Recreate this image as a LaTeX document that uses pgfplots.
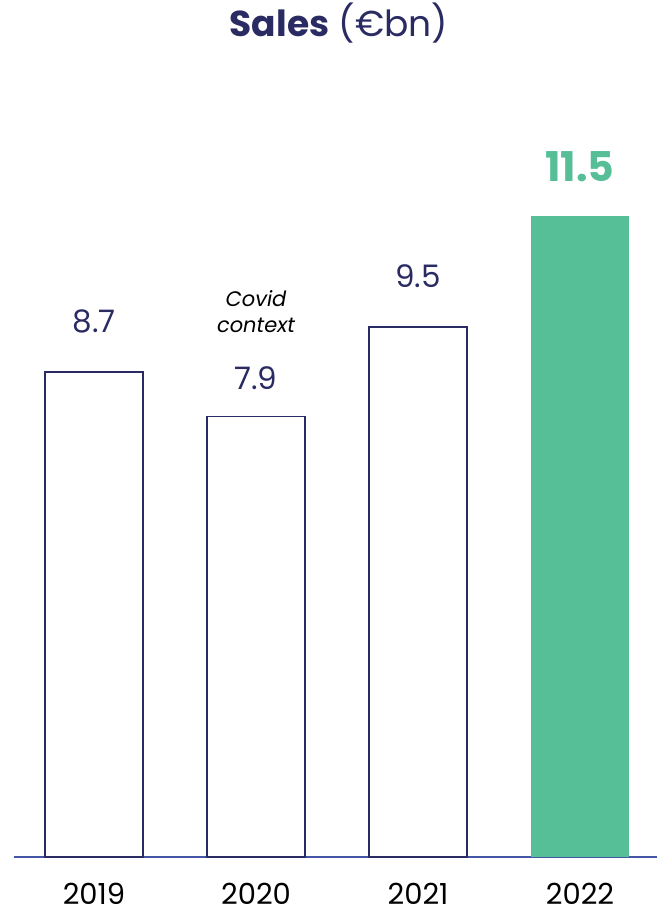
\documentclass[border=0pt]{standalone}
\usepackage{fontspec}
\setmainfont{Poppins}
\usepackage{pgfplots}
\pgfplotsset{compat=1.18}
\definecolor{navy}{HTML}{2A2B62}
\definecolor{mint}{HTML}{57BF98}
\definecolor{axisblue}{HTML}{4656A6}
\begin{document}
\begin{tikzpicture}
\useasboundingbox (-14pt,-58pt) rectangle (643pt,857pt);
\begin{axis}[
  at={(0,0)}, anchor=south west,
  scale only axis,
  width=643pt, height=857pt,
  xmin=-0.494, xmax=3.475,
  ymin=0, ymax=15.37,
  axis y line=none,
  axis x line*=bottom,
  x axis line style={color=axisblue, line width=1.5pt, -},
  xtick={0,1,2,3},
  xticklabels={2019,2020,2021,2022},
  major tick length=0pt,
  xticklabel style={anchor=center, inner sep=0pt, yshift=-37pt, font=\fontsize{29}{34}\selectfont, text=black},
  ybar, bar width=98pt, bar shift=0pt,
  clip=false,
]
\addplot[fill=white, draw=navy, line width=1.6pt] coordinates {(0,8.7) (1,7.9) (2,9.5)};
\addplot[fill=mint, draw=none] coordinates {(3,11.5)};
\node[text=navy, font=\fontsize{31}{34}\selectfont] at (axis cs:0,9.61) {8.7};
\node[text=navy, font=\fontsize{31}{34}\selectfont] at (axis cs:1,8.59) {7.9};
\node[text=navy, font=\fontsize{31}{34}\selectfont] at (axis cs:2,10.42) {9.5};
\node[text=mint, font=\fontsize{41}{46}\selectfont\bfseries] at (axis cs:3,12.38) {11.5};
\node[text=black, align=center, font=\fontsize{21}{26}\selectfont\itshape] at (axis cs:1,9.79) {Covid\\context};
\end{axis}
\node[text=navy, inner sep=0pt] at (325pt,834pt) {\fontsize{36}{40}\selectfont\textbf{Sales} (€bn)};
\end{tikzpicture}
\end{document}
